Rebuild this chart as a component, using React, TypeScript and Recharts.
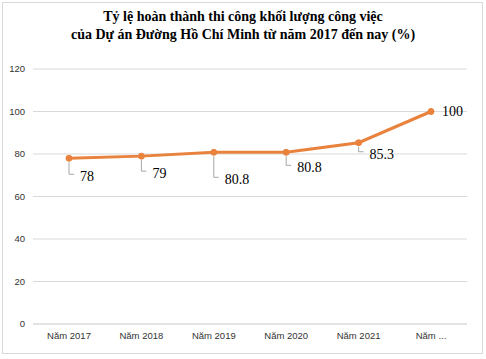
import React from 'react';
import { LineChart, Line, XAxis, YAxis, CartesianGrid, LabelList } from 'recharts';

// Số liệu
const years = ['Năm 2017', 'Năm 2018', 'Năm 2019', 'Năm 2020', 'Năm 2021', 'Năm ...'];
const completion = [78, 79, 80.8, 80.8, 85.3, 100];
const yTicks = [0, 20, 40, 60, 80, 100, 120];

// khoảng cách nhãn dữ liệu xuống dưới điểm (px), chỉ để dàn trang
const labelDrops = [18, 17, 27, 15, 11];

const data = years.map((name, i) => ({ name, value: completion[i] }));

const ORANGE = '#E8823C';
const GRID = '#d9d9d9';

const DataLabel = (props: any) => {
  const { x, y, value, index } = props;
  const style = { fontFamily: '"Liberation Serif", "Times New Roman", serif', fontSize: 14, fill: '#000' };
  if (index === completion.length - 1) {
    return (
      <text x={x + 11} y={y} dy="0.35em" style={style}>
        {value}
      </text>
    );
  }
  const d = labelDrops[index];
  return (
    <g>
      <path d={`M${x},${y + 4}V${y + d - 2}H${x + 5}`} stroke="#a6a6a6" strokeWidth={1} fill="none" />
      <text x={x + 11} y={y + d} dy="0.35em" style={style}>
        {value}
      </text>
    </g>
  );
};

const App: React.FC = () => {
  return (
    <div style={{ position: 'absolute', left: 0, top: 0, width: 486, height: 359, background: '#fff' }}>
      <div
        style={{
          position: 'absolute',
          left: 2,
          top: 2,
          width: 481,
          height: 352,
          border: '1px solid #d9d9d9',
          boxSizing: 'border-box',
        }}
      />
      <div
        style={{
          position: 'absolute',
          left: 0,
          top: 8,
          width: 486,
          textAlign: 'center',
          fontFamily: '"Liberation Serif", "Times New Roman", serif',
          fontWeight: 'bold',
          fontSize: 14,
          lineHeight: '18px',
          color: '#000',
        }}
      >
        Tỷ lệ hoàn thành thi công khối lượng công việc
        <br />
        của Dự án Đường Hồ Chí Minh từ năm 2017 đến nay (%)
      </div>
      <LineChart
        width={486}
        height={359}
        data={data}
        margin={{ top: 69, right: 19, left: 0, bottom: 0 }}
        style={{ position: 'absolute', left: 0, top: 0 }}
      >
        <CartesianGrid vertical={false} stroke={GRID} />
        <XAxis
          dataKey="name"
          height={35}
          padding={{ left: 36, right: 36 }}
          axisLine={{ stroke: GRID }}
          tickLine={false}
          interval={0}
          tick={{ fontSize: 9.5, fill: '#333', fontFamily: '"Liberation Sans", Arial, sans-serif' }}
        />
        <YAxis
          width={33}
          domain={[0, 120]}
          ticks={yTicks}
          axisLine={false}
          tickLine={false}
          tick={{ fontSize: 9.5, fill: '#333', fontFamily: '"Liberation Sans", Arial, sans-serif' }}
        />
        <Line
          type="linear"
          dataKey="value"
          stroke={ORANGE}
          strokeWidth={3}
          dot={{ r: 3, fill: ORANGE, stroke: ORANGE, strokeWidth: 1 }}
          isAnimationActive={false}
        >
          <LabelList dataKey="value" content={DataLabel} />
        </Line>
      </LineChart>
    </div>
  );
};

export default App;
